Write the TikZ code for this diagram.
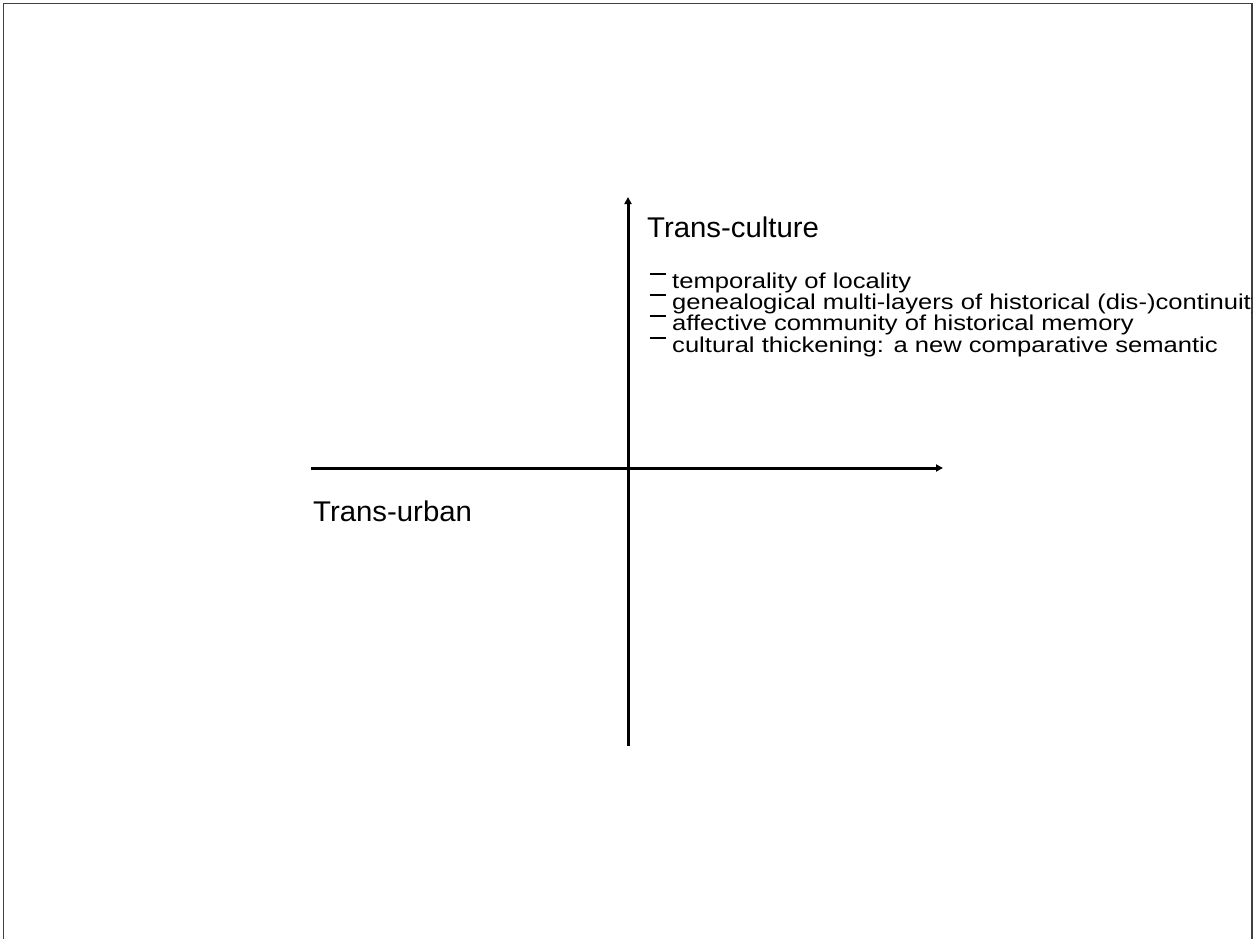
\documentclass[tikz,border=0pt]{standalone}
\usepackage{fontspec}
\setmainfont{Liberation Sans}
\newfontfamily\itemfont[FakeStretch=1.19]{Liberation Sans}
\newfontfamily\headfont[FakeStretch=1.03]{Liberation Sans}
\usetikzlibrary{arrows.meta}
\newcommand{\itemdash}{\raisebox{13.5pt}{\rule{16pt}{1.6pt}}\hspace{6pt}}
\begin{document}
\begin{tikzpicture}[x=1pt,y=-1pt,
  axis/.style={line width=3pt,-{Triangle[length=7pt,width=7pt]}},
  heading/.style={anchor=base west,inner sep=0pt,font=\headfont\fontsize{28.5}{32}\selectfont},
  item/.style={anchor=base west,inner sep=0pt,font=\itemfont\fontsize{21.5}{24}\selectfont},
  frameline/.style={draw=black!75,line width=1.6pt}]
\useasboundingbox (0,0) rectangle (1255,939);
% page frame (open at the bottom)
\draw[frameline] (3.5,939) -- (3.5,3.5) -- (1252,3.5) -- (1252,939);
% axes
\coordinate (vlow) at (628,746);
\coordinate (vtop) at (628,197);
\coordinate (hleft) at (311,468);
\coordinate (hright) at (943,468);
\draw[axis] (vlow) -- (vtop);
\draw[axis] (hleft) -- (hright);
% labels, clipped at the right edge of the frame
\begin{scope}
\clip (0,0) rectangle (1251,939);
\node[heading] (tc) at (647,237) {Trans-culture};
\node[heading] (tu) at (313,521) {Trans-urban};
\node[item] (i1) at (650,288) {\itemdash temporality of locality};
\node[item] (i2) at (650,309) {\itemdash genealogical multi-layers of historical (dis-)continuity};
\node[item] (i3) at (650,330.5) {\itemdash affective community of historical memory};
\node[item] (i4) at (650,352) {\itemdash cultural thickening: a new comparative semantic};
\end{scope}
\end{tikzpicture}
\end{document}
